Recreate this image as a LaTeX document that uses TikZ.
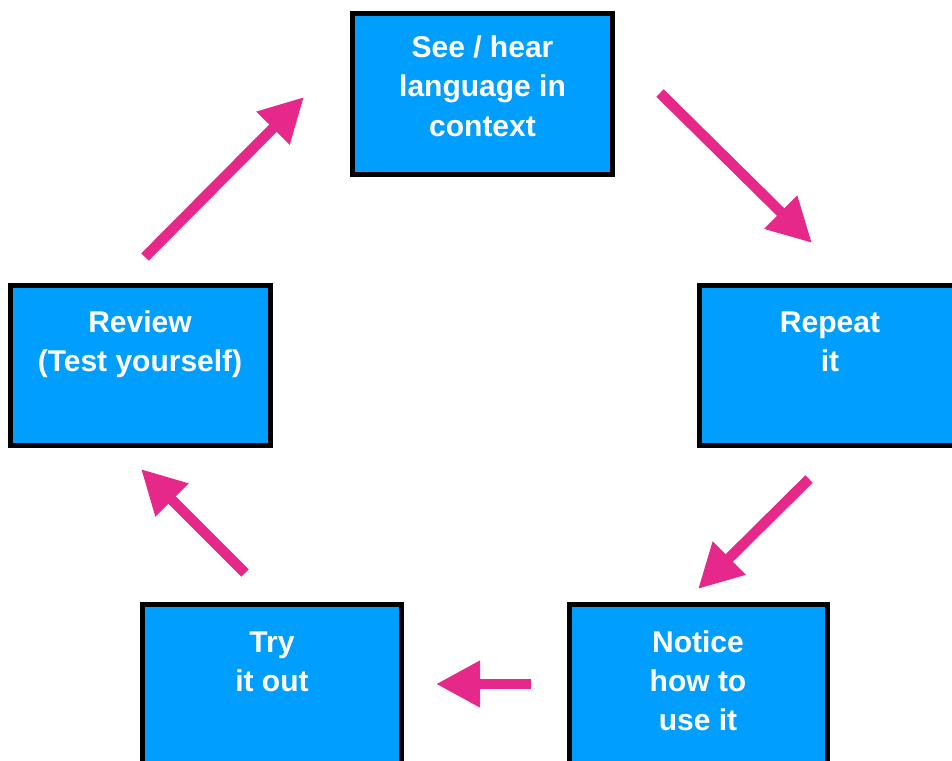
\documentclass[tikz,border=0pt]{standalone}
\usepackage{fontspec}
\setmainfont{Liberation Sans}
\usetikzlibrary{arrows.meta}
\definecolor{boxblue}{RGB}{0,159,255}
\definecolor{arrowpink}{RGB}{230,40,138}
\tikzset{
  box/.style={draw=black, line width=5pt, fill=boxblue, inner sep=0pt, outer sep=0pt},
  lbl/.style={anchor=base, inner sep=0pt, text=white, font=\fontsize{30}{39}\selectfont\bfseries},
  flow/.style={draw=arrowpink, line width=10.5pt, line cap=butt,
    -{Triangle[length=44pt 0 0, width=44pt 0 0]}}
}
\newcommand{\lines}[1]{\begin{tabular}[t]{@{}c@{}}#1\end{tabular}}
\begin{document}
\begin{tikzpicture}[x=1pt, y=-1pt]
\useasboundingbox (0,0) rectangle (952,760);
\clip (0,0) rectangle (952,760);
% boxes (line centres)
\node[box, minimum width=260pt, minimum height=161pt] (see) at (482.5,94) {};
\node[box, minimum width=260pt, minimum height=160pt] (rep) at (829.5,365.5) {};
\node[box, minimum width=260pt, minimum height=160pt] (rev) at (140.5,365.5) {};
\node[box, minimum width=259pt, minimum height=196pt] (try) at (272,702.5) {};
\node[box, minimum width=258pt, minimum height=196pt] (not) at (698.5,702.5) {};
% labels
\node[lbl] (seeT) at (482.5,58) {\lines{See / hear\\language in\\context}};
\node[lbl] (repT) at (830,332) {\lines{Repeat\\it}};
\node[lbl] (revT) at (140,332) {\lines{Review\\(Test yourself)}};
\node[lbl] (tryT) at (272,652) {\lines{Try\\it out}};
\node[lbl] (notT) at (698,652) {\lines{Notice\\how to\\use it}};
% arrow end points
\coordinate (a1s) at (660,93);  \coordinate (a1e) at (812,243);
\coordinate (a2s) at (809,479); \coordinate (a2e) at (698,589);
\coordinate (a3s) at (531,684); \coordinate (a3e) at (436,684);
\coordinate (a4s) at (245,573); \coordinate (a4e) at (141,469);
\coordinate (a5s) at (145,257); \coordinate (a5e) at (304,97);
\draw[flow] (a1s) -- (a1e);
\draw[flow] (a2s) -- (a2e);
\draw[flow] (a3s) -- (a3e);
\draw[flow] (a4s) -- (a4e);
\draw[flow] (a5s) -- (a5e);
\end{tikzpicture}
\end{document}
